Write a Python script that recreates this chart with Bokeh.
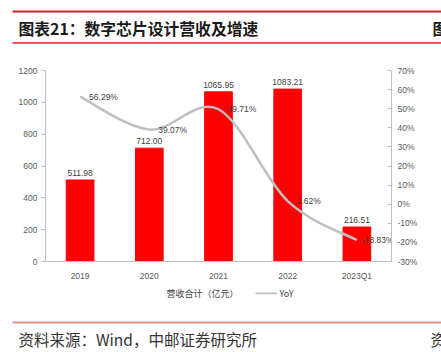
from bokeh.plotting import figure
from bokeh.layouts import column
from bokeh.models import (Range1d, LinearAxis, FixedTicker, PrintfTickFormatter, Legend,
                          LegendItem, ColumnDataSource)
from bokeh.core.properties import value
from bokeh.embed import file_html
from bokeh.resources import INLINE

categories = ["2019", "2020", "2021", "2022", "2023Q1"]
revenue = [511.98, 712.00, 1065.95, 1083.21, 216.51]
yoy = [56.29, 39.07, 49.71, 1.62, -18.83]
left_ticks = [0, 200, 400, 600, 800, 1000, 1200]
right_ticks = [-30, -20, -10, 0, 10, 20, 30, 40, 50, 60, 70]
title_text = "图表21：数字芯片设计营收及增速"
source_text = "资料来源：Wind，中邮证券研究所"
bar_name = "营收合计（亿元）"
line_name = "YoY"

# label offsets (px) for the YoY value labels (style only)
yoy_label_dx = [9, 9, 9, 9, 5]

W = 441
H_HEAD, H_MAIN, H_LEG, H_FOOT = 48, 235, 20, 49
FONT = "Liberation Sans"
CJK = "Noto Sans CJK SC"
AXIS_GREY = "#BFBFBF"
LABEL_COL = "#595959"
DATA_COL = "#404040"
BAR_RED = "#FF0000"
LINE_GREY = "#BFBFBF"
RULE_RED = "#D42027"


def blank(h):
    f = figure(width=W, height=h, output_backend="svg", toolbar_location=None,
               x_range=Range1d(0, W), y_range=Range1d(h, 0),
               x_axis_type=None, y_axis_type=None, min_border=0, frame_align=False)
    f.outline_line_color = None
    f.background_fill_color = "white"
    f.border_fill_color = "white"
    return f


# ---------- header ----------
head = blank(H_HEAD)
head.segment(x0=[12], y0=[11], x1=[W], y1=[11], line_color=RULE_RED, line_width=2.2)
head.segment(x0=[12], y0=[42.5], x1=[W], y1=[42.5], line_color=RULE_RED, line_width=1.4)
head.text(x=[18, 432], y=[28, 28], text=[title_text, "图"], text_font=value(CJK),
          text_font_style="bold", text_font_size="15.8px", text_color="#1A1A1A",
          text_baseline="middle", text_align="left")

# ---------- main chart ----------
xs = list(range(1, len(categories) + 1))
p = figure(width=W, height=H_MAIN, output_backend="svg", toolbar_location=None,
           x_range=Range1d(0.5, len(categories) + 0.5), y_range=Range1d(0, 1200),
           min_border_left=45, min_border_right=50, min_border_top=22, min_border_bottom=20,
           frame_align=False)
p.outline_line_color = None
p.xgrid.visible = False
p.ygrid.visible = False
p.background_fill_color = "white"
p.border_fill_color = "white"
p.extra_y_ranges = {"yoy": Range1d(-30, 70)}

p.xaxis.ticker = FixedTicker(ticks=xs)
p.xaxis.major_label_overrides = {x: c for x, c in zip(xs, categories)}
p.xaxis.axis_line_color = AXIS_GREY
p.xaxis.major_tick_line_color = None
p.xaxis.minor_tick_line_color = None
p.xaxis.major_label_text_font = FONT
p.xaxis.major_label_text_font_size = "8.5px"
p.xaxis.major_label_text_color = LABEL_COL
p.xaxis.major_label_standoff = 3

p.yaxis.ticker = FixedTicker(ticks=left_ticks)
p.yaxis.axis_line_color = AXIS_GREY
p.yaxis.major_tick_line_color = AXIS_GREY
p.yaxis.major_tick_out = 4
p.yaxis.major_tick_in = 0
p.yaxis.minor_tick_line_color = None
p.yaxis.major_label_text_font = FONT
p.yaxis.major_label_text_font_size = "8.5px"
p.yaxis.major_label_text_color = LABEL_COL
p.yaxis.major_label_standoff = 4

ra = LinearAxis(y_range_name="yoy", ticker=FixedTicker(ticks=right_ticks),
                formatter=PrintfTickFormatter(format="%d%%"))
ra.axis_line_color = AXIS_GREY
ra.major_tick_line_color = AXIS_GREY
ra.major_tick_out = 0
ra.major_tick_in = 4
ra.minor_tick_line_color = None
ra.major_label_text_font = FONT
ra.major_label_text_font_size = "8.5px"
ra.major_label_text_color = LABEL_COL
ra.major_label_standoff = 6
p.add_layout(ra, "right")

p.vbar(x=xs, top=revenue, width=0.4, fill_color=BAR_RED, line_color=BAR_RED)
p.text(x=xs, y=revenue, text=["%.2f" % v for v in revenue], y_offset=-4,
       text_align="center", text_baseline="bottom", text_font=value(FONT),
       text_font_size="8.5px", text_color=DATA_COL)

# smoothed YoY line: cubic bezier segments (Excel-style smoothing)
n = len(xs)
x0, y0, x1, y1, cx0, cy0, cx1, cy1 = [], [], [], [], [], [], [], []
for i in range(n - 1):
    pm = i - 1 if i > 0 else 0
    pp = i + 2 if i + 2 < n else n - 1
    x0.append(xs[i]); y0.append(yoy[i])
    x1.append(xs[i + 1]); y1.append(yoy[i + 1])
    cx0.append(xs[i] + (xs[i + 1] - xs[pm]) / 6.0)
    cy0.append(yoy[i] + (yoy[i + 1] - yoy[pm]) / 6.0)
    cx1.append(xs[i + 1] - (xs[pp] - xs[i]) / 6.0)
    cy1.append(yoy[i + 1] - (yoy[pp] - yoy[i]) / 6.0)
p.bezier(x0=x0, y0=y0, x1=x1, y1=y1, cx0=cx0, cy0=cy0, cx1=cx1, cy1=cy1,
         y_range_name="yoy", line_color=LINE_GREY, line_width=2.5)

p.text(x=xs, y=yoy, y_range_name="yoy", text=["%.2f%%" % v for v in yoy],
       x_offset=yoy_label_dx, text_align="left", text_baseline="middle",
       text_font=value(FONT), text_font_size="8.5px", text_color=DATA_COL)

# ---------- legend ----------
leg = blank(H_LEG)
nan = float("nan")
r_bar = leg.vbar(x=[], top=[], width=1, fill_color=BAR_RED, line_color=BAR_RED)
r_line = leg.line(source=ColumnDataSource(dict(x=[nan, nan], y=[nan, nan])), x="x", y="y",
                  line_color=LINE_GREY, line_width=2)
legend = Legend(items=[LegendItem(label=bar_name, renderers=[r_bar]),
                       LegendItem(label=line_name, renderers=[r_line])],
                orientation="horizontal", location="center",
                glyph_width=22, glyph_height=3, spacing=16, padding=0, margin=0,
                label_text_font=CJK, label_text_font_size="9px",
                label_text_color=DATA_COL, label_standoff=3,
                border_line_color=None, background_fill_alpha=0)
leg.add_layout(legend)

# ---------- footer ----------
foot = blank(H_FOOT)
foot.segment(x0=[12], y0=[19], x1=[W], y1=[19], line_color="#E88F8F", line_width=2)
foot.text(x=[18, 430], y=[35, 35], text=[source_text, "资"], text_font=value(CJK),
          text_font_size="15.5px", text_color="#333333",
          text_baseline="middle", text_align="left")

layout = column(head, p, leg, foot, spacing=0)
open("out.html", "w").write(file_html(layout, INLINE))
